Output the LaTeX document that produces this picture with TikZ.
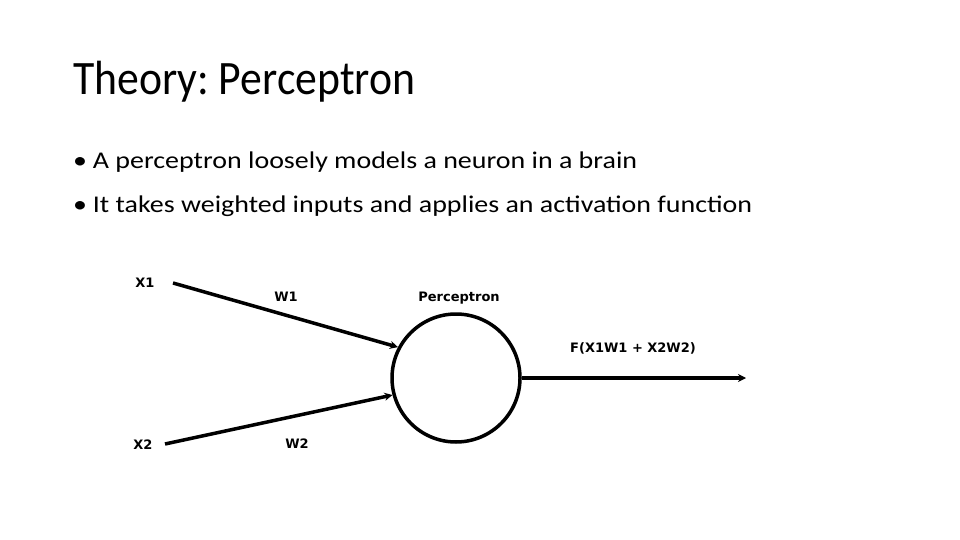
\documentclass[tikz,border=0pt]{standalone}
\usepackage{fontspec}
\setmainfont{Carlito}
\newfontfamily\labelfont{DejaVu Sans}
\usepackage{graphicx}
\usepackage{xcolor}
\usetikzlibrary{arrows.meta,positioning}
\definecolor{InkC}{RGB}{0,0,0}
\frenchspacing
\tikzset{
  title/.style={anchor=base west,inner sep=0pt,font=\fontsize{48}{56}\selectfont,text=InkC},
  bullet/.style={anchor=base west,inner sep=0pt,font=\fontsize{24}{28}\selectfont,text=InkC},
  lbl/.style={inner sep=0pt,font=\labelfont\bfseries\fontsize{13}{15}\selectfont,text=InkC},
  neuron/.style={circle,draw=InkC,line width=3.5pt,minimum size=128pt,inner sep=0pt},
  wire/.style={-{Stealth[length=8pt,width=8pt]},line width=3.5pt,InkC},
}
\begin{document}
\begin{tikzpicture}[x=1pt,y=-1pt]
  \useasboundingbox[fill=white] (0,0) rectangle (960,540);
  % heading and bullets
  \node[title] (head) at (73,95) {\scalebox{0.91}[1]{Theory: Perceptron}};
  \node[bullet] (b1) at (73,169) {\scalebox{1.165}[1]{\textbullet\hspace{5pt}A perceptron loosely models a neuron in a brain}};
  \node[bullet] (b2) at (73,212) {\scalebox{1.165}[1]{\textbullet\hspace{5pt}It takes weighted inputs and applies an activation function}};
  % perceptron
  \node[neuron] (p) at (456,378) {};
  \node[lbl] (plbl) at (459,298) {Perceptron};
  % inputs
  \node[lbl] (x1) at (145,283) {X1};
  \node[lbl] (x2) at (143,445) {X2};
  \coordinate (x1s) at (173,283);
  \coordinate (x2s) at (165,444);
  \node[lbl] (w1) at (286,297) {W1};
  \node[lbl] (w2) at (297,444) {W2};
  \draw[wire] (x1s) -- (p.152);
  \draw[wire] (x2s) -- (p.195);
  % output
  \coordinate (out) at (746,378);
  \node[lbl] (f) at (633,348) {F(X1W1 + X2W2)};
  \draw[wire] (p.east) -- (out);
\end{tikzpicture}
\end{document}
